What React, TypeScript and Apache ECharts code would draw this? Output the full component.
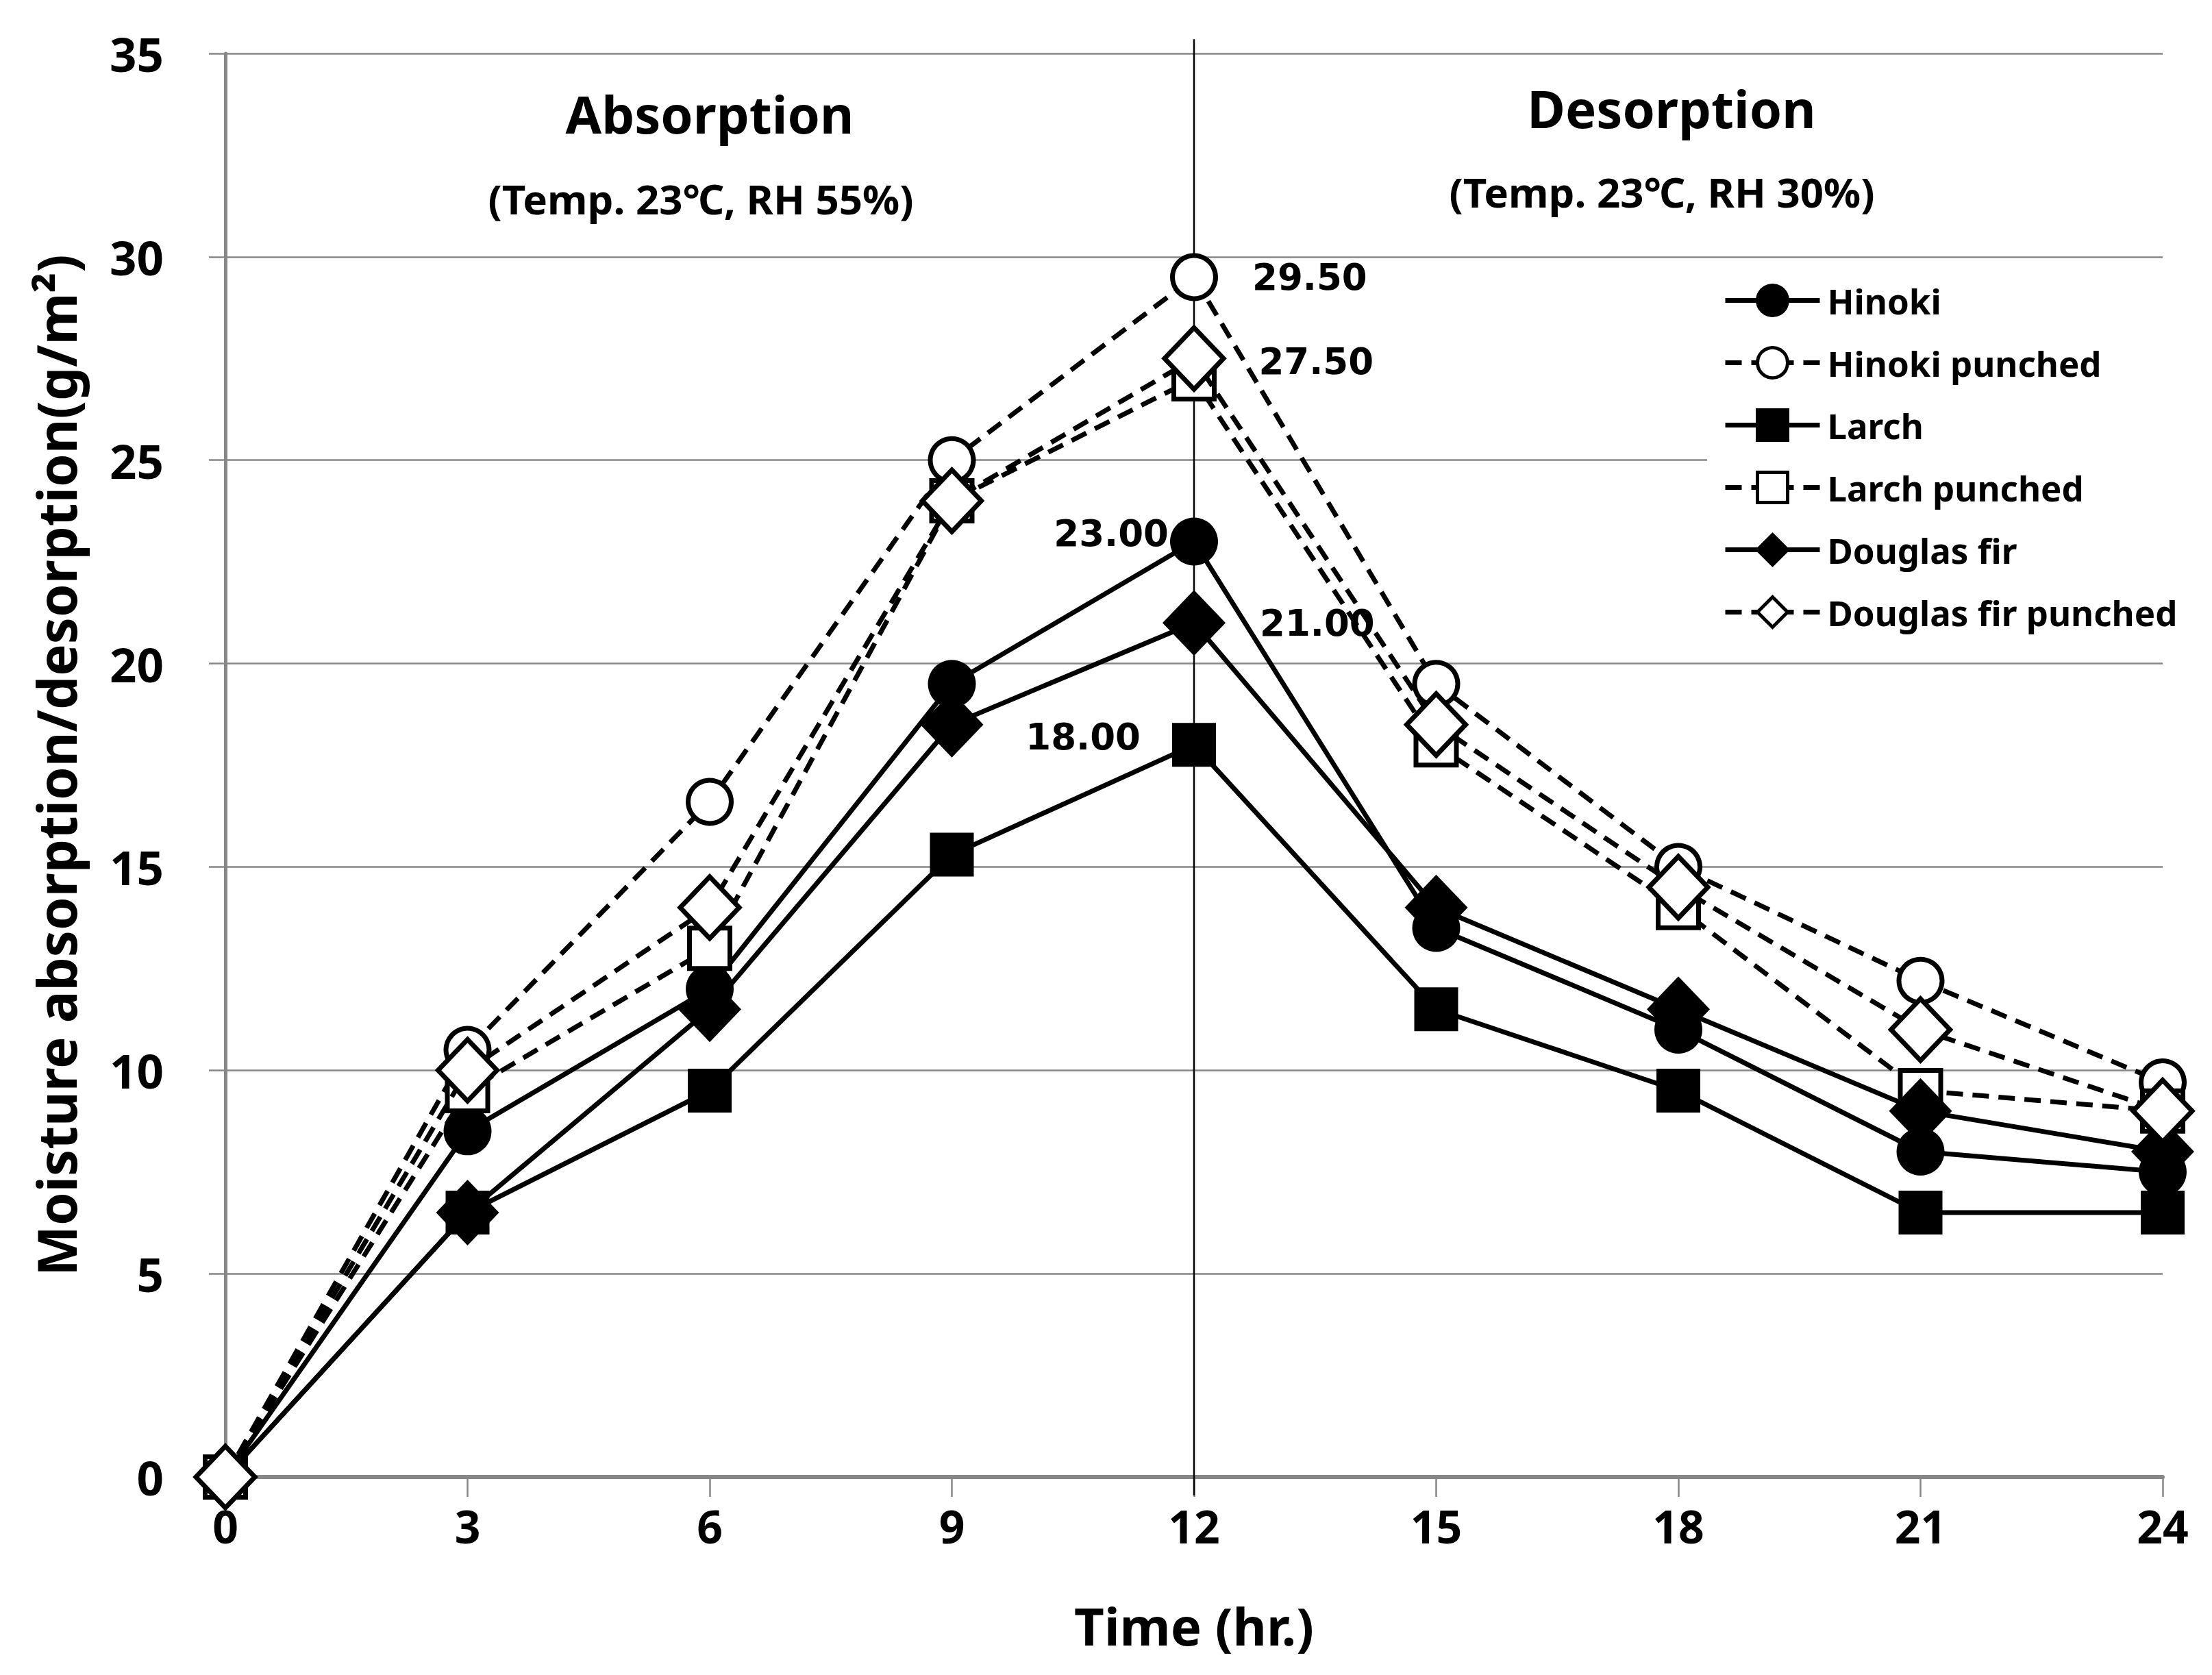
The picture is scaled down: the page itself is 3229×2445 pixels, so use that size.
import React, { useEffect, useRef } from "react";
import * as echarts from "echarts";

// ---- data ----
const hours = [0, 3, 6, 9, 12, 15, 18, 21, 24];
const hinoki = [0, 8.5, 12.0, 19.5, 23.0, 13.5, 11.0, 8.0, 7.5];
const hinokiPunched = [0, 10.5, 16.6, 25.0, 29.5, 19.5, 15.0, 12.2, 9.7];
const larch = [0, 6.5, 9.5, 15.3, 18.0, 11.5, 9.5, 6.5, 6.5];
const larchPunched = [0, 9.5, 13.0, 24.0, 27.0, 18.0, 14.0, 9.5, 9.0];
const douglas = [0, 6.5, 11.5, 18.5, 21.0, 14.0, 11.5, 9.0, 8.0];
const douglasPunched = [0, 10.0, 14.0, 24.0, 27.5, 18.5, 14.5, 11.0, 9.0];
const seriesNames = [
  "Hinoki",
  "Hinoki punched",
  "Larch",
  "Larch punched",
  "Douglas fir",
  "Douglas fir punched",
];
const labelHour = 12; // the hour whose values carry data labels
const xMin = 0, xMax = 24, xStep = 3;
const yMin = 0, yMax = 35, yStep = 5;
const phaseMarkHour = 12;
const phaseMarkSpan = [35.35, -0.45]; // vertical divider runs a little past the plot

const GRAY = "#878787";
const FONT = "'Noto Sans', 'Noto Sans CJK KR', sans-serif";

type Spec = {
  name: string;
  values: number[];
  symbol: string;
  filled: boolean;
  size: number | number[];
  label: null | { side: string; distance: number; offset: number[] };
};

export default function App() {
  const ref = useRef<HTMLDivElement>(null);
  useEffect(() => {
    if (!ref.current) return;
    const chart = echarts.init(ref.current, null, { renderer: "svg" });

    const specs: Spec[] = [
      { name: seriesNames[0], values: hinoki, symbol: "circle", filled: true, size: 70, label: { side: "left", distance: 2, offset: [0, -12] } },
      { name: seriesNames[1], values: hinokiPunched, symbol: "circle", filled: false, size: 63, label: { side: "right", distance: 50, offset: [0, 0] } },
      { name: seriesNames[2], values: larch, symbol: "rect", filled: true, size: 64, label: { side: "left", distance: 46, offset: [0, -12] } },
      { name: seriesNames[3], values: larchPunched, symbol: "rect", filled: false, size: 59, label: null },
      { name: seriesNames[4], values: douglas, symbol: "diamond", filled: true, size: [92, 96], label: { side: "right", distance: 50, offset: [0, 0] } },
      { name: seriesNames[5], values: douglasPunched, symbol: "diamond", filled: false, size: [86, 90], label: { side: "right", distance: 48, offset: [0, 4] } },
    ];

    const series: any[] = [
      {
        name: "divider",
        type: "line",
        data: phaseMarkSpan.map((v) => [phaseMarkHour, v]),
        symbol: "none",
        clip: false,
        silent: true,
        z: 1,
        lineStyle: { color: "#000", width: 2.5, type: "solid" },
        emphasis: { disabled: true },
        tooltip: { show: false },
      },
    ];

    specs.forEach((s, si) => {
      const data = hours.map((h, i) => {
        const item: any = { value: [h, s.values[i]] };
        if (s.label && h === labelHour) {
          item.label = {
            show: true,
            position: s.label.side,
            distance: s.label.distance,
            offset: s.label.offset,
            formatter: (p: any) => Number(p.value[1]).toFixed(2),
            fontFamily: "'DejaVu Sans', sans-serif",
            fontWeight: "bold",
            fontSize: 53,
            color: "#000",
          };
        }
        return item;
      });
      series.push({
        name: s.name,
        type: "line",
        data,
        symbol: s.symbol,
        symbolSize: s.size,
        showAllSymbol: true,
        clip: false,
        z: 3 + si,
        lineStyle: {
          color: "#000",
          width: 7,
          type: s.filled ? "solid" : [24, 14],
        },
        itemStyle: s.filled
          ? { color: "#000", borderColor: "#000", borderWidth: 0 }
          : { color: "#fff", borderColor: "#000", borderWidth: 7 },
        emphasis: { disabled: true },
        label: { show: false },
      });
    });

    chart.setOption({
      animation: false,
      backgroundColor: "#fff",
      grid: { left: 329, right: 72, top: 78, bottom: 289, containLabel: false },
      xAxis: {
        type: "value",
        min: xMin,
        max: xMax,
        interval: xStep,
        name: "Time (hr.)",
        nameLocation: "middle",
        nameGap: 178,
        nameTextStyle: { fontFamily: FONT, fontWeight: "bold", fontSize: 76, color: "#000" },
        axisLine: { show: true, lineStyle: { color: GRAY, width: 6 } },
        axisTick: { show: true, length: 29, lineStyle: { color: GRAY, width: 2.5 } },
        axisLabel: { margin: 38, fontFamily: FONT, fontWeight: "bold", fontSize: 66, color: "#000" },
        splitLine: { show: false },
      },
      yAxis: {
        type: "value",
        min: yMin,
        max: yMax,
        interval: yStep,
        name: "Moisture absorption/desorption(g/m²)",
        nameLocation: "middle",
        nameGap: 208,
        nameTextStyle: { fontFamily: FONT, fontWeight: "bold", fontSize: 78, color: "#000" },
        axisLine: { show: true, lineStyle: { color: GRAY, width: 5 } },
        axisTick: { show: true, length: 24, lineStyle: { color: GRAY, width: 2.5 } },
        axisLabel: { margin: 90, fontFamily: FONT, fontWeight: "bold", fontSize: 69, color: "#000" },
        splitLine: { show: true, lineStyle: { color: GRAY, width: 2.5 } },
      },
      legend: {
        orient: "vertical",
        left: 2492,
        top: 391,
        padding: [22, 14, 26, 23],
        backgroundColor: "#fff",
        itemWidth: 138,
        itemHeight: 55,
        itemGap: 40,
        itemStyle: { borderWidth: 5 },
        lineStyle: { width: 7 },
        data: seriesNames,
        textStyle: { fontFamily: FONT, fontWeight: "bold", fontSize: 51, color: "#000", padding: [0, 0, 0, 6] },
        z: 10,
      },
      graphic: [
        { type: "text", x: 1036, y: 165, style: { text: "Absorption", font: `bold 76px ${FONT}`, fill: "#000", textAlign: "center", textVerticalAlign: "middle" } },
        { type: "text", x: 1023, y: 290, style: { text: "(Temp. 23℃, RH 55%)", font: `bold 60px ${FONT}`, fill: "#000", textAlign: "center", textVerticalAlign: "middle" } },
        { type: "text", x: 2440, y: 157, style: { text: "Desorption", font: `bold 76px ${FONT}`, fill: "#000", textAlign: "center", textVerticalAlign: "middle" } },
        { type: "text", x: 2426, y: 280, style: { text: "(Temp. 23℃, RH 30%)", font: `bold 60px ${FONT}`, fill: "#000", textAlign: "center", textVerticalAlign: "middle" } },
      ],
      series,
    });

    return () => chart.dispose();
  }, []);

  return (
    <div
      ref={ref}
      style={{ position: "absolute", left: 0, top: 0, width: 3229, height: 2445, background: "#fff" }}
    />
  );
}
